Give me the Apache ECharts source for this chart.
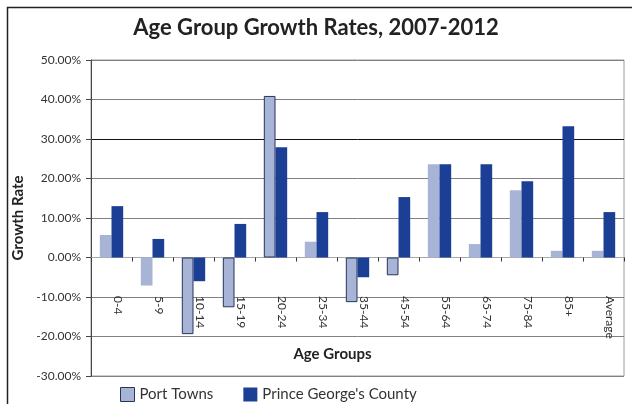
<!DOCTYPE html>
<html>
<head>
<meta charset="utf-8">
<script src="https://cdn.jsdelivr.net/npm/echarts@6/dist/echarts.min.js"></script>
<style>
  html, body { margin: 0; padding: 0; background: #fff; }
  #chart { width: 632px; height: 404px; }
</style>
</head>
<body>
<div id="chart"></div>
<script>
// Age groups along the category axis
const ageGroups = ['0-4', '5-9', '10-14', '15-19', '20-24', '25-34', '35-44', '45-54', '55-64', '65-74', '75-84', '85+', 'Average'];
// Growth rates 2007-2012, in percent
const portTowns = [5.7, -7.1, -19.4, -12.6, 40.9, 4.0, -11.3, -4.5, 23.6, 3.4, 17.0, 1.7, 1.7];
const princeGeorges = [13.0, 4.7, -6.0, 8.5, 27.9, 11.5, -5.0, 15.3, 23.6, 23.6, 19.3, 33.2, 11.5];
// Value axis range and step
const yMin = -30, yMax = 50, yStep = 10;
// Port Towns bars that carry an outline
const outlinedGroups = ['10-14', '15-19', '20-24', '35-44', '45-54'];

const FONT = 'Lato, "Open Sans", sans-serif';
const LIGHT = '#a7b4d6';
const DARK = '#1b3f95';
const OUTLINE = '#26345e';

const chart = echarts.init(document.getElementById('chart'), null, { renderer: 'canvas' });

// Gridline colours: the 30% line is drawn black, the rest grey
const gridColors = [];
for (let v = yMin; v <= yMax; v += yStep) gridColors.push(v === 30 ? '#111' : '#808080');

chart.setOption({
  animation: false,
  backgroundColor: '#fff',
  textStyle: { fontFamily: FONT },
  title: {
    text: 'Age Group Growth Rates, 2007-2012',
    left: 'center',
    top: 12,
    textStyle: { fontFamily: FONT, fontSize: 22, fontWeight: 'bold', color: '#222' }
  },
  graphic: [{
    type: 'rect',
    shape: { x: 7.5, y: 7.5, width: 640, height: 420 },
    style: { fill: null, stroke: '#222', lineWidth: 1.5 },
    silent: true
  }],
  legend: {
    left: 115,
    top: 382,
    itemWidth: 14,
    itemHeight: 14,
    itemGap: 30,
    icon: 'rect',
    textStyle: { fontFamily: FONT, fontSize: 15, color: '#333' },
    data: [
      { name: 'Port Towns', itemStyle: { borderColor: OUTLINE, borderWidth: 1 } },
      { name: "Prince George's County" }
    ]
  },
  grid: {
    left: 91, right: 8, top: 60, bottom: 28,
    containLabel: false,
    outerBoundsMode: 'none',
    show: true, borderColor: '#9a9a9a', borderWidth: 1, backgroundColor: 'transparent'
  },
  xAxis: {
    type: 'category',
    data: ageGroups,
    name: 'Age Groups',
    nameLocation: 'middle',
    nameGap: -29,
    nameTextStyle: { fontFamily: FONT, fontSize: 15, fontWeight: 'bold', color: '#222', padding: [0, 50, 0, 0] },
    axisLine: { onZero: true, lineStyle: { color: '#a8a8a8', width: 1 } },
    axisTick: { show: true, alignWithLabel: false, length: 4, lineStyle: { color: '#333' } },
    axisLabel: {
      rotate: -90,
      margin: -80,
      interval: 0,
      verticalAlign: 'bottom',
      fontFamily: FONT, fontSize: 12, color: '#333'
    },
    splitLine: { show: false }
  },
  yAxis: {
    type: 'value',
    min: yMin, max: yMax, interval: yStep,
    name: 'Growth Rate',
    nameLocation: 'middle',
    nameGap: 59,
    nameTextStyle: { fontFamily: FONT, fontSize: 15, fontWeight: 'bold', color: '#222' },
    axisLine: { show: true, lineStyle: { color: '#444', width: 1 } },
    axisTick: { show: true, length: 5, lineStyle: { color: '#444' } },
    axisLabel: {
      margin: 10,
      fontFamily: FONT, fontSize: 12, color: '#333',
      formatter: v => v.toFixed(2) + '%'
    },
    splitLine: { show: true, lineStyle: { color: gridColors, width: 1 } }
  },
  series: [
    {
      name: 'Port Towns',
      type: 'bar',
      barGap: '0%',
      barCategoryGap: '43%',
      itemStyle: { color: LIGHT },
      data: portTowns.map((v, i) => outlinedGroups.includes(ageGroups[i])
        ? { value: v, itemStyle: { borderColor: OUTLINE, borderWidth: 1 } }
        : v)
    },
    {
      name: "Prince George's County",
      type: 'bar',
      barGap: '0%',
      barCategoryGap: '43%',
      itemStyle: { color: DARK },
      data: princeGeorges
    }
  ]
});
</script>
</body>
</html>
